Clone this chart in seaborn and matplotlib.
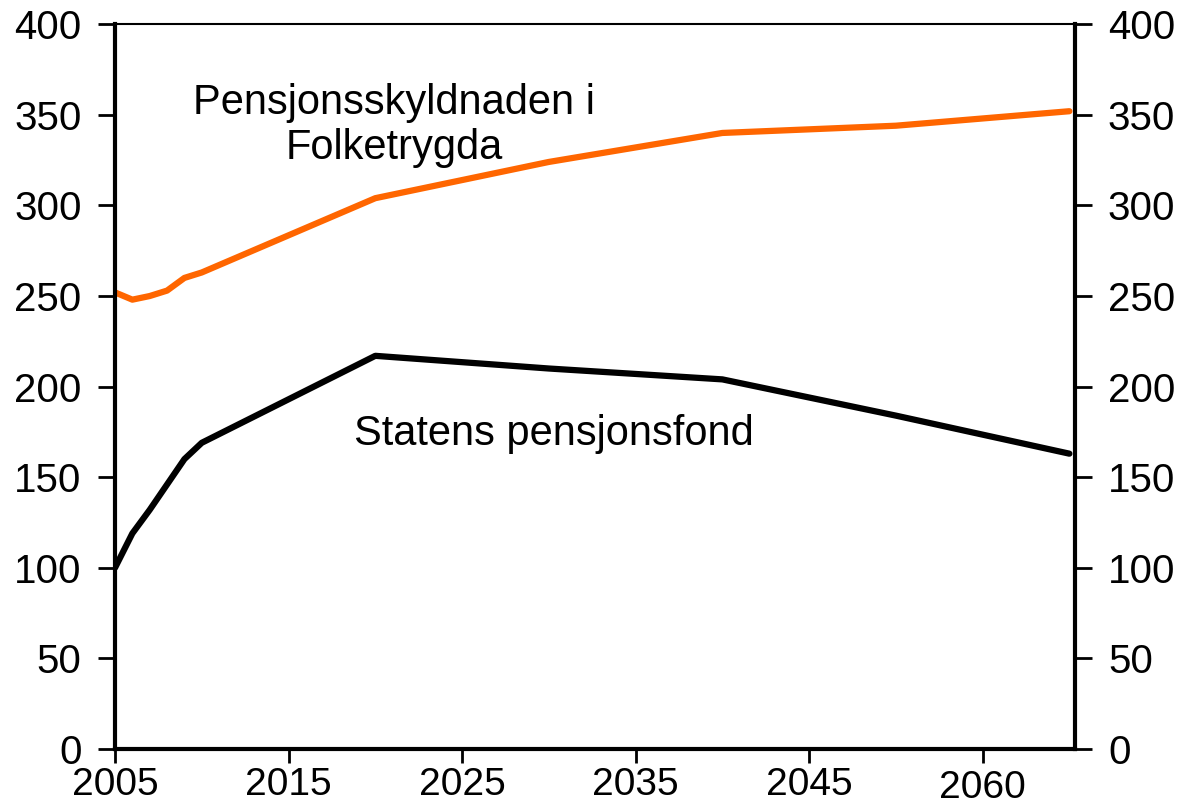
import pandas as pd
import matplotlib
matplotlib.use("Agg")
import matplotlib.pyplot as plt
import seaborn as sns

# data
years = [2005, 2006, 2007, 2008, 2009, 2010, 2020, 2030, 2040, 2050, 2060]
pension_debt = [252, 248, 250, 253, 260, 263, 304, 324, 340, 344, 352]
pension_fund = [100, 119, 132, 146, 160, 169, 217, 210, 204, 184, 163]
x_ticks = [2005, 2015, 2025, 2035, 2045, 2055]
x_labels = ["2005", "2015", "2025", "2035", "2045", "2060"]
y_ticks = [0, 50, 100, 150, 200, 250, 300, 350, 400]

df = pd.DataFrame({"year": years, "debt": pension_debt, "fund": pension_fund})

sns.set_theme(style="white")
plt.rcParams['font.family'] = ['Liberation Sans', 'DejaVu Sans']

fig = plt.figure(figsize=(11.98, 8.08), dpi=100)
ax = fig.add_axes([0.096, 0.073, 0.801, 0.897])

sns.lineplot(data=df, x="year", y="debt", color="#ff6600", linewidth=4.5, ax=ax)
sns.lineplot(data=df, x="year", y="fund", color="black", linewidth=4.5, ax=ax)

ax.set_xlim(2005, 2060.3)
ax.set_ylim(0, 400)
ax.set_xlabel("")
ax.set_ylabel("")
ax.set_xticks(x_ticks)
ax.set_xticklabels(x_labels)
ax.set_yticks(y_ticks)
ax.tick_params(axis="y", labelsize=29, direction="out", length=12, width=2,
               color="black", labelcolor="black", left=True, pad=12)
ax.tick_params(axis="x", labelsize=28, direction="out", length=10, width=2,
               color="black", labelcolor="black", bottom=True, pad=3)
# the last label sits a bit lower in the original
ax.get_xticklabels()[-1].set_y(-0.004)

for side in ["left", "bottom", "right"]:
    ax.spines[side].set_color("black")
    ax.spines[side].set_linewidth(3)
ax.spines["top"].set_color("black")
ax.spines["top"].set_linewidth(1.5)

ax2 = ax.twinx()
ax2.set_ylim(0, 400)
ax2.set_yticks(y_ticks)
ax2.tick_params(axis="y", labelsize=29, direction="out", length=12, width=2,
                color="black", labelcolor="black", right=True, pad=12)
for s in ax2.spines.values():
    s.set_visible(False)

ax.text(2021.1, 344, "Pensjonsskyldnaden i\nFolketrygda", fontsize=30, color="black",
        ha="center", va="center", linespacing=1.15)
ax.text(2018.8, 174, "Statens pensjonsfond", fontsize=30, color="black",
        ha="left", va="center")

plt.savefig("out.png", dpi=100)
